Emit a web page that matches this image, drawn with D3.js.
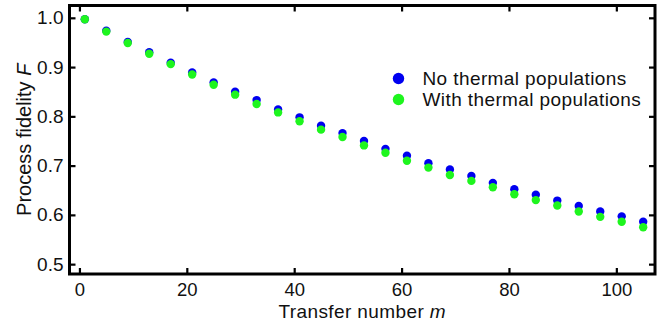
<!DOCTYPE html>
<html>
<head>
<meta charset="utf-8">
<script src="https://cdn.jsdelivr.net/npm/d3@7"></script>
<style>
  body { margin: 0; background: #fff; }
  text { font-family: "Liberation Sans", Arial, Helvetica, sans-serif; fill: #111; }
</style>
</head>
<body>
<div id="chart"></div>
<script>
// transfer number m
var transfers = [1, 5, 9, 13, 17, 21, 25, 29, 33, 37, 41, 45, 49, 53, 57, 61, 65, 69, 73, 77, 81, 85, 89, 93, 97, 101, 105];
// process fidelity F
var noThermal = [0.997, 0.974, 0.951, 0.930, 0.909, 0.889, 0.869, 0.850, 0.833, 0.814, 0.798, 0.781, 0.766, 0.750, 0.734, 0.720, 0.705, 0.692, 0.679, 0.665, 0.652, 0.641, 0.629, 0.618, 0.607, 0.597, 0.586];
var withThermal = [0.997, 0.972, 0.949, 0.927, 0.906, 0.885, 0.864, 0.844, 0.825, 0.808, 0.790, 0.773, 0.758, 0.741, 0.726, 0.710, 0.696, 0.681, 0.669, 0.656, 0.642, 0.630, 0.619, 0.607, 0.596, 0.586, 0.575];
var xTicks = [0, 20, 40, 60, 80, 100];
var yTicks = [0.5, 0.6, 0.7, 0.8, 0.9, 1.0];
var seriesNames = ["No thermal populations", "With thermal populations"];
var seriesColors = ["#0000f0", "#1ef51e"];

var width = 666, height = 322;
var margin = {top: 5.5, right: 11, bottom: 48, left: 69.5},
    w = width - margin.left - margin.right,
    h = height - margin.top - margin.bottom;

var svg = d3.select("#chart")
    .append("svg")
    .attr("width", width)
    .attr("height", height)
    .append("g")
    .attr("transform", "translate(" + margin.left + "," + margin.top + ")");

var x = d3.scaleLinear().domain([-1.85, 107.2]).range([0, w]);
var y = d3.scaleLinear().domain([0.48, 1.025]).range([h, 0]);

// axes, ticks pointing inward
var xBottom = svg.append("g")
    .attr("transform", "translate(0," + h + ")")
    .call(d3.axisBottom(x).tickValues(xTicks).tickSizeInner(-6).tickSizeOuter(0).tickPadding(9).tickFormat(d3.format("d")));
var xTop = svg.append("g")
    .call(d3.axisTop(x).tickValues(xTicks).tickSizeInner(-6).tickSizeOuter(0).tickFormat(""));
var yLeft = svg.append("g")
    .call(d3.axisLeft(y).tickValues(yTicks).tickSizeInner(-6).tickSizeOuter(0).tickPadding(6).tickFormat(d3.format(".1f")));
var yRight = svg.append("g")
    .attr("transform", "translate(" + w + ",0)")
    .call(d3.axisRight(y).tickValues(yTicks).tickSizeInner(-6).tickSizeOuter(0).tickFormat(""));

[xBottom, xTop, yLeft, yRight].forEach(function(g){
    g.select(".domain").remove();
    g.selectAll(".tick line").attr("stroke", "#000").attr("stroke-width", 2.2);
    g.selectAll(".tick text").style("font-size", "19px").attr("fill", "#111");
});
xBottom.selectAll(".tick text").style("font-size", "18.5px");

svg.append("rect")
    .attr("x", 0)
    .attr("y", 0)
    .attr("width", w)
    .attr("height", h)
    .attr("fill", "none")
    .attr("stroke", "#000")
    .attr("stroke-width", 3);

// points
var data0 = transfers.map(function(m, i){ return {m: m, f: noThermal[i]}; });
var data1 = transfers.map(function(m, i){ return {m: m, f: withThermal[i]}; });

[data0, data1].forEach(function(data, k){
    svg.selectAll(".dot" + k)
        .data(data)
        .enter()
        .append("circle")
        .attr("class", "dot" + k)
        .attr("cx", function(d){ return x(d.m); })
        .attr("cy", function(d){ return y(d.f); })
        .attr("r", 4.2)
        .attr("fill", seriesColors[k]);
});

// legend
var legend = svg.append("g")
    .attr("transform", "translate(" + (398.5 - margin.left) + "," + (78.5 - margin.top) + ")");

seriesNames.forEach(function(name, i){
    legend.append("circle")
        .attr("cx", 0)
        .attr("cy", i * 21)
        .attr("r", 5.7)
        .attr("fill", seriesColors[i]);
    legend.append("text")
        .attr("x", 24)
        .attr("y", i * 21 + 6.7)
        .style("font-size", "19px")
        .style("letter-spacing", "0.4px")
        .text(name);
});

// axis titles
svg.append("text")
    .attr("x", w / 2)
    .attr("y", 318 - margin.top)
    .attr("text-anchor", "middle")
    .style("font-size", "19px")
    .style("letter-spacing", "0.4px")
    .html("Transfer number <tspan font-style='italic'>m</tspan>");

svg.append("text")
    .attr("transform", "translate(" + (31 - margin.left) + "," + (h / 2) + ") rotate(-90)")
    .attr("text-anchor", "middle")
    .style("font-size", "20px")
    .html("Process fidelity <tspan font-style='italic'>F</tspan>");
</script>
</body>
</html>
